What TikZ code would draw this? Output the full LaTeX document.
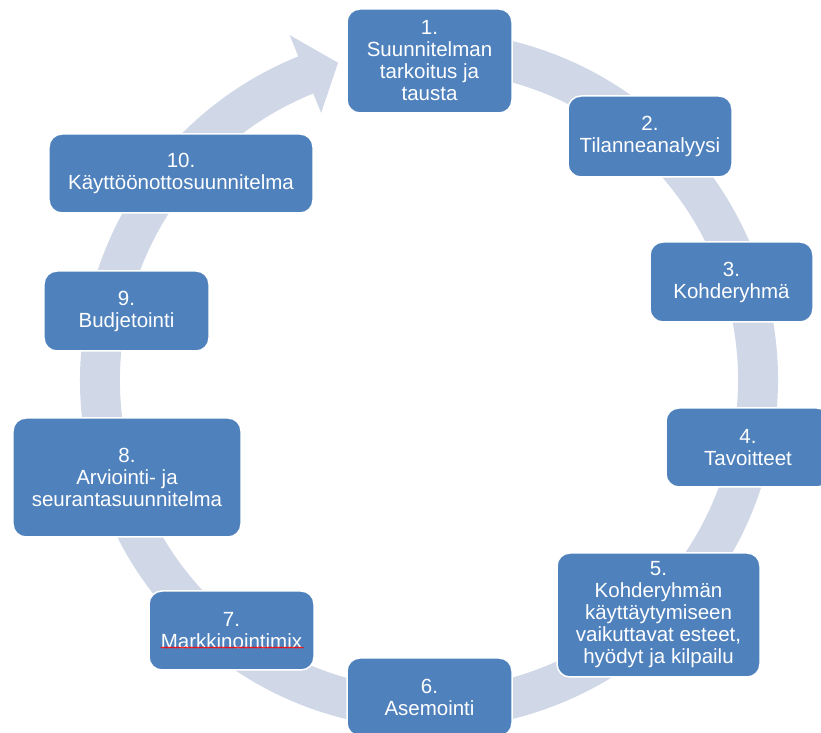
\documentclass[tikz,border=0pt]{standalone}
\usepackage{fontspec}
\setmainfont{Liberation Sans}
\usepackage{tikz}
\usetikzlibrary{decorations.pathmorphing}
\definecolor{stagefill}{RGB}{79,129,189}
\definecolor{ringfill}{RGB}{208,216,232}

\begin{document}
\begin{tikzpicture}[x=1bp,y=1bp,
  stage/.style={rectangle,rounded corners=13bp,fill=stagefill,draw=white,line width=1.5bp,
    text=white,align=center,inner sep=0pt,font=\fontsize{20.5bp}{22bp}\selectfont}]
  \useasboundingbox (0,0) rectangle (821,733);
  % ring with arrow head
  \begin{scope}[shift={(429,353)}]
    \fill[ringfill] (85:349) arc[start angle=85,end angle=-248,radius=349]
      -- (112:372) -- (106:330) -- (112:288) -- (112:309)
      arc[start angle=-248,end angle=85,radius=309] -- cycle;
  \end{scope}
  \node[stage,minimum width=165bp,minimum height=104bp] (s1) at (429.5,672) {1.\\Suunnitelman\\tarkoitus ja\\tausta};
  \node[stage,minimum width=164bp,minimum height=81bp] (s2) at (650,596.5) {2.\\Tilanneanalyysi};
  \node[stage,minimum width=163bp,minimum height=80bp] (s3) at (731.5,451) {3.\\Kohderyhmä};
  \node[stage,minimum width=164bp,minimum height=79bp] (s4) at (748,285.5) {4.\\Tavoitteet};
  \node[stage,minimum width=203bp,minimum height=124bp] (s5) at (658.5,118) {5.\\Kohderyhmän\\käyttäytymiseen\\vaikuttavat esteet,\\hyödyt ja kilpailu};
  \node[stage,minimum width=165bp,minimum height=78bp] (s6) at (429.5,36) {6.\\Asemointi};
  \node[stage,minimum width=165bp,minimum height=79bp] (s7) at (231.5,102.5) {7.\\Markkinointimix};
  \node[stage,minimum width=228bp,minimum height=119bp] (s8) at (127,255.5) {8.\\Arviointi- ja\\seurantasuunnitelma};
  \node[stage,minimum width=165bp,minimum height=80bp] (s9) at (126.5,422) {9.\\Budjetointi};
  \node[stage,minimum width=264bp,minimum height=79bp] (s10) at (181,559.5) {10.\\Käyttöönottosuunnitelma};
  % spell check mark
  \draw[red,line width=0.6bp,decorate,decoration={snake,amplitude=0.6bp,segment length=2.5bp}]
    ([xshift=-71bp,yshift=-17bp]s7.center) -- ([xshift=72bp,yshift=-17bp]s7.center);
\end{tikzpicture}
\end{document}
